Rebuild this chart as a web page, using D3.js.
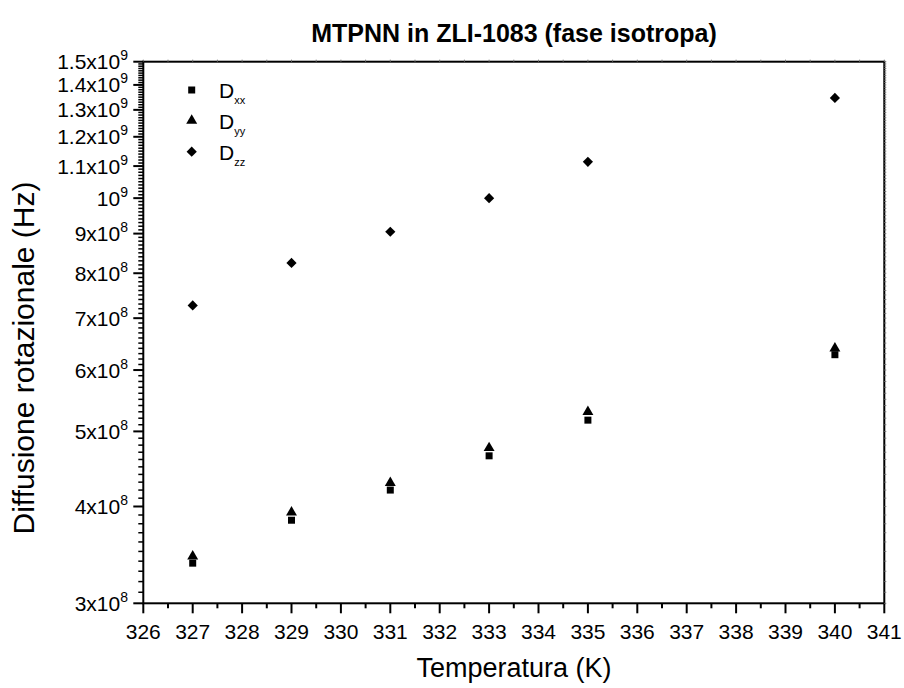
<!DOCTYPE html>
<html>
<head>
<meta charset="utf-8">
<script src="https://cdn.jsdelivr.net/npm/d3@7"></script>
<style>
  html, body { margin: 0; padding: 0; background: #fff; }
  svg { display: block; font-family: "Liberation Sans", Arial, sans-serif; }
</style>
</head>
<body>
<svg id="chart" width="904" height="688"></svg>
<script>
// ---- data ----
const temperatures = [327, 329, 331, 333, 335, 340];
const Dxx = [3.38e8, 3.84e8, 4.20e8, 4.65e8, 5.17e8, 6.28e8];
const Dyy = [3.45e8, 3.93e8, 4.29e8, 4.76e8, 5.30e8, 6.40e8];
const Dzz = [7.27e8, 8.25e8, 9.05e8, 1.00e9, 1.114e9, 1.347e9];
const seriesNames = ["xx", "yy", "zz"];
const xTickValues = d3.range(326, 342, 1);
const yTickValues = [3e8, 4e8, 5e8, 6e8, 7e8, 8e8, 9e8, 1e9, 1.1e9, 1.2e9, 1.3e9, 1.4e9, 1.5e9];
const titleText = "MTPNN in ZLI-1083 (fase isotropa)";
const xTitle = "Temperatura (K)";
const yTitle = "Diffusione rotazionale (Hz)";

// ---- layout ----
const svg = d3.select("#chart");
const L = 143.3, R = 884.3, T = 61.7, B = 603.3;
const x = d3.scaleLinear().domain([326, 341]).range([L, R]);
const y = d3.scaleLog().domain([3e8, 1.5e9]).range([B, T]);

// minor ticks
const xMinor = d3.range(326.5, 341, 1);
const yMinor = d3.range(3e8, 1.5e9 + 1, 1e7).filter(v => Math.abs(v / 1e8 - Math.round(v / 1e8)) > 1e-6);

const axisG = svg.append("g").attr("stroke", "#000").attr("fill", "none");

// frame
axisG.append("rect").attr("x", L).attr("y", T).attr("width", R - L).attr("height", B - T)
  .attr("stroke-width", 2);

// bottom axis ticks
axisG.append("g").selectAll("line").data(xTickValues).join("line")
  .attr("x1", d => x(d)).attr("x2", d => x(d)).attr("y1", B).attr("y2", B + 10).attr("stroke-width", 2);
axisG.append("g").selectAll("line").data(xMinor).join("line")
  .attr("x1", d => x(d)).attr("x2", d => x(d)).attr("y1", B).attr("y2", B + 5).attr("stroke-width", 2);
// top axis small ticks
axisG.append("g").selectAll("line").data(xTickValues.concat(xMinor)).join("line")
  .attr("x1", d => x(d)).attr("x2", d => x(d)).attr("y1", T).attr("y2", T - 2).attr("stroke-width", 1).attr("stroke", "#777");

// left axis ticks
axisG.append("g").selectAll("line").data(yTickValues).join("line")
  .attr("y1", d => y(d)).attr("y2", d => y(d)).attr("x1", L).attr("x2", L - 10).attr("stroke-width", 2);
axisG.append("g").selectAll("line").data(yMinor).join("line")
  .attr("y1", d => y(d)).attr("y2", d => y(d)).attr("x1", L).attr("x2", L - 5).attr("stroke-width", 1.5);
// right axis small ticks
axisG.append("g").selectAll("line").data(yTickValues.concat(yMinor)).join("line")
  .attr("y1", d => y(d)).attr("y2", d => y(d)).attr("x1", R).attr("x2", R + 2).attr("stroke-width", 1).attr("stroke", "#777");

// x tick labels
svg.append("g").selectAll("text").data(xTickValues).join("text")
  .attr("x", d => x(d)).attr("y", 639).attr("text-anchor", "middle")
  .attr("font-size", 21).attr("fill", "#000").text(d => d);

// y tick labels with superscript exponent
const yLab = svg.append("g").selectAll("text").data(yTickValues).join("text")
  .attr("x", 128).attr("y", d => y(d) + 7.5).attr("text-anchor", "end")
  .attr("font-size", 21).attr("fill", "#000");
yLab.each(function(d) {
  const e = Math.floor(Math.log10(d) + 1e-9);
  const m = +(d / Math.pow(10, e)).toFixed(2);
  const t = d3.select(this);
  t.append("tspan").text(m === 1 ? "10" : m + "x10");
  t.append("tspan").attr("dy", -9).attr("font-size", 14).text(e);
});

// titles
svg.append("text").attr("x", 514).attr("y", 42).attr("text-anchor", "middle")
  .attr("font-size", 25).attr("font-weight", "bold").text(titleText);
svg.append("text").attr("x", 514).attr("y", 677).attr("text-anchor", "middle")
  .attr("font-size", 27).text(xTitle);
svg.append("text").attr("transform", "translate(34,358) rotate(-90)")
  .attr("text-anchor", "middle").attr("font-size", 30).text(yTitle);

// data markers
const shapes = [d3.symbolSquare, d3.symbolTriangle, d3.symbolSquare];
const rotations = [0, 0, 45];
const sizes = [49, 52, 52];
const allSeries = [Dxx, Dyy, Dzz];
allSeries.forEach((vals, i) => {
  svg.append("g").selectAll("path").data(vals).join("path")
    .attr("transform", (d, j) => "translate(" + x(temperatures[j]) + "," + y(d) + ") rotate(" + rotations[i] + ")")
    .attr("d", d3.symbol().type(shapes[i]).size(sizes[i]))
    .attr("fill", "#000");
});

// legend
const legY = [90, 120.7, 151.7];
const leg = svg.append("g");
seriesNames.forEach((n, i) => {
  leg.append("path").attr("transform", "translate(191.7," + legY[i] + ") rotate(" + rotations[i] + ")")
    .attr("d", d3.symbol().type(shapes[i]).size(sizes[i])).attr("fill", "#000");
  const t = leg.append("text").attr("x", 219).attr("y", legY[i] + 8).attr("font-size", 21);
  t.append("tspan").text("D");
  t.append("tspan").attr("dy", 6).attr("font-size", 11).text(n);
});
</script>
</body>
</html>
